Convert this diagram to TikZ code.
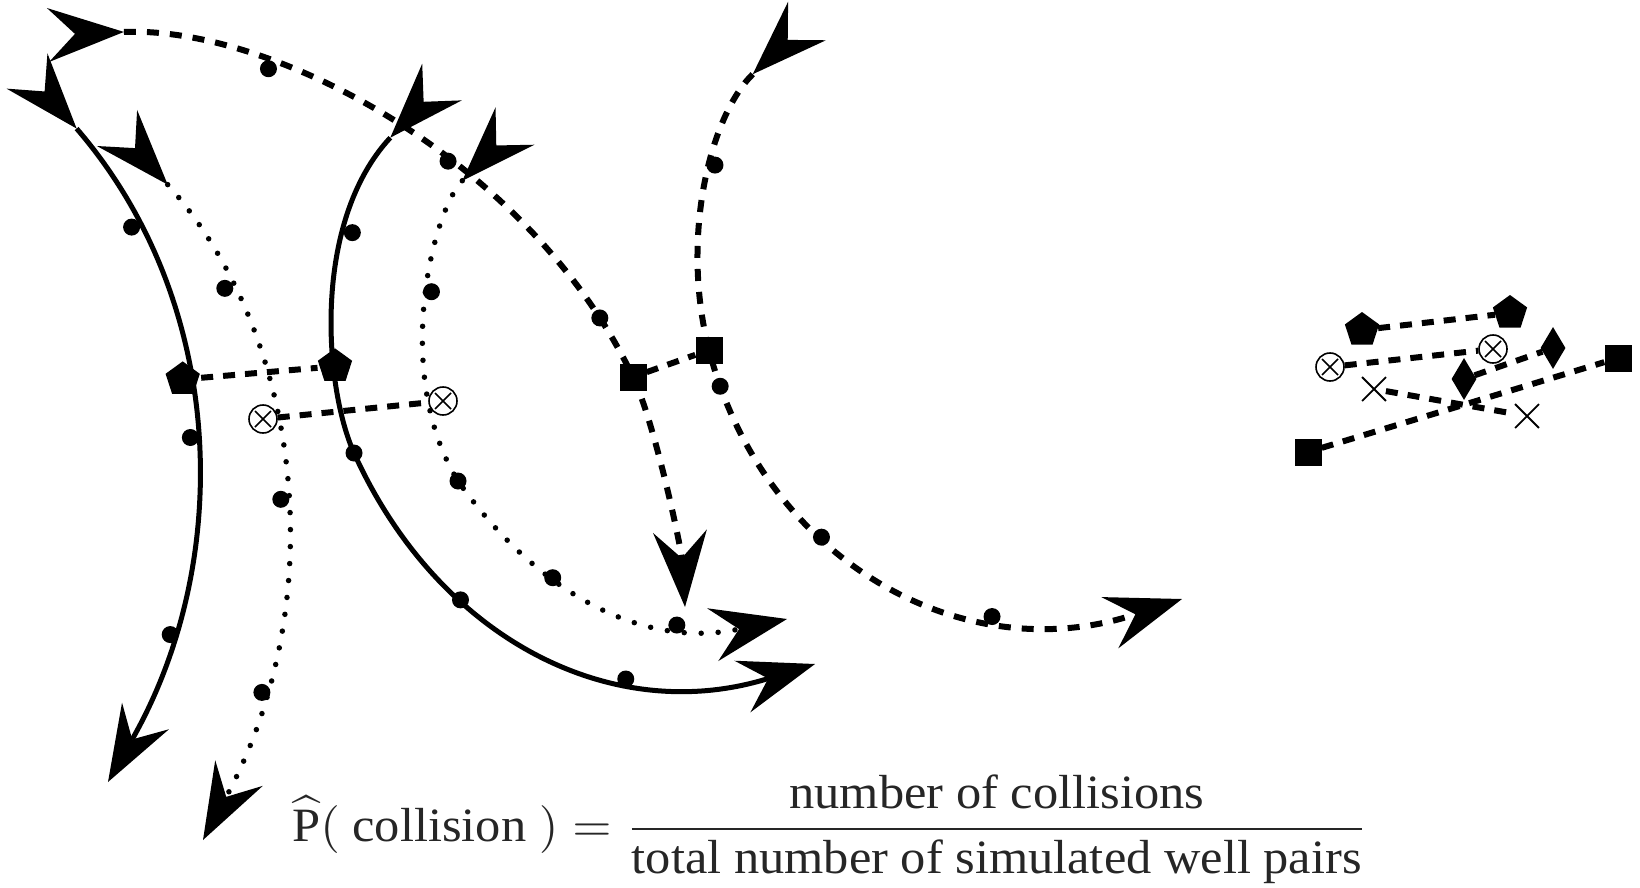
\documentclass[tikz,border=0pt]{standalone}
\usepackage{amsmath}
\usepackage{graphicx}
\usepackage{fontspec}
\setmainfont{Liberation Serif}
\usetikzlibrary{arrows.meta,shapes.geometric,shapes.misc}
\pgfdeclarelayer{bg}\pgfdeclarelayer{fg}\pgfsetlayers{bg,main,fg}
\tikzset{
  bothways/.style={{Stealth[reversed,length=76pt,width=54pt,inset=27pt,line width=0pt]}-{Stealth[length=76pt,width=54pt,inset=27pt,line width=0pt]}},
  solidpath/.style={line width=5pt},
  dashedpath/.style={line width=6pt,dash pattern=on 12pt off 11pt},
  dottedpath/.style={line width=5.5pt,line cap=round,dash pattern=on 0pt off 17pt},
  linkline/.style={line width=6pt,dash pattern=on 12pt off 10pt},
  bigdot/.style={circle,fill=black,inner sep=0pt,minimum size=17pt},
  penta/.style={regular polygon,regular polygon sides=5,fill=black,inner sep=0pt,minimum size=36pt},
  sqmark/.style={rectangle,fill=black,inner sep=0pt,minimum size=27pt},
  diam/.style={diamond,fill=black,inner sep=0pt,minimum width=25pt,minimum height=42pt},
  xmark/.style={cross out,draw=black,line width=1.8pt,inner sep=0pt,minimum size=22pt},
  otim/.style={circle,draw=black,line width=1.6pt,inner sep=0pt,minimum size=28pt,
    path picture={\draw[line width=1.6pt]
      ([xshift=-8pt,yshift=-8pt]path picture bounding box.center) -- ([xshift=8pt,yshift=8pt]path picture bounding box.center)
      ([xshift=-8pt,yshift=8pt]path picture bounding box.center) -- ([xshift=8pt,yshift=-8pt]path picture bounding box.center);}},
}
\begin{document}
\begin{tikzpicture}[x=1pt,y=-1pt]
\begin{pgfonlayer}{bg}
\fill[white] (0,0) rectangle (1640,888);
\end{pgfonlayer}
\useasboundingbox (0,0) rectangle (1640,888);

% trajectory start and end points
\coordinate (d1b) at (48,35);   \coordinate (d1e) at (685,607);
\coordinate (d2b) at (807,21);  \coordinate (d2e) at (1182,599);
\coordinate (s1b) at (27,71);   \coordinate (s1e) at (108,782);
\coordinate (t1b) at (117,128); \coordinate (t1e) at (203,840);
\coordinate (s2b) at (442,82);  \coordinate (s2e) at (815,664);
\coordinate (t2b) at (515,126); \coordinate (t2e) at (787,619);

\begin{pgfonlayer}{fg}
\node[sqmark] (sqA) at (633,377) {};
\node[sqmark] (sqB) at (709,350) {};
\node[otim] (oxA) at (263,419) {};
\node[otim] (oxB) at (443,401) {};
\node[bigdot] (s2c) at (354,453) {};
\node[bigdot] (t2c) at (458,481) {};
% right cluster
\node[penta] (rpA) at (1362,330) {};
\node[penta] (rpB) at (1510,313) {};
\node[otim] (roC) at (1330,367) {};
\node[otim] (roD) at (1493,349) {};
\node[xmark] (rxE) at (1374,389) {};
\node[xmark] (rxF) at (1527,416) {};
\node[diam] (rdG) at (1464,379) {};
\node[diam] (rdH) at (1553,348) {};
\node[sqmark] (rsI) at (1308,452) {};
\node[sqmark] (rsJ) at (1618,358) {};
\end{pgfonlayer}

% trajectories
\draw[dashedpath,bothways] (d1b) .. controls (274.3,25.9) and (530.7,162.1) ..
   node[bigdot,pos=0.32] (d1a) {} node[bigdot,pos=0.6] (d1c) {} node[bigdot,pos=0.905] (d1d) {}
   (sqA.center) .. controls (654.5,422) and (681,547) .. (d1e);
\draw[dashedpath,bothways] (d2b) .. controls (710.4,115.7) and (679.8,236.7) ..
   node[bigdot,pos=0.46] (d2a) {}
   (sqB.center) .. controls (762.5,557.1) and (960,672) ..
   node[bigdot,pos=0.06] (d2c) {} node[bigdot,pos=0.37] (d2d) {} node[bigdot,pos=0.7] (d2f) {} (d2e);
\draw[solidpath,bothways] (s1b) .. controls (227,303) and (234,560) ..
   node[bigdot,pos=0.22] (s1a) {} node[penta,pos=0.43] (pentA) {} node[bigdot,pos=0.51] (s1c) {} node[bigdot,pos=0.785] (s1d) {} (s1e);
\draw[dottedpath,bothways] (t1b) .. controls (301,333.5) and (333.7,597.1) ..
   node[bigdot,pos=0.245] (t1a) {} node[bigdot,pos=0.54] (t1c) {} node[bigdot,pos=0.8] (t1d) {} (t1e);
\draw[solidpath,bothways] (s2b) .. controls (312,222) and (324,386) ..
   node[bigdot,pos=0.35] (s2a) {} node[penta,pos=0.69] (pentB) {}
   (s2c.center) .. controls (438.5,639.3) and (611.9,727) ..
   node[bigdot,pos=0.32] (s2d) {} node[bigdot,pos=0.67] (s2f) {} (s2e);
\draw[dottedpath,bothways] (t2b) .. controls (432.3,211.9) and (392,374) ..
   node[bigdot,pos=0.49] (t2a) {}
   (t2c.center) .. controls (535,590) and (640,650) ..
   node[bigdot,pos=0.36] (t2d) {} node[bigdot,pos=0.73] (t2f) {} (t2e);

% collision links
\draw[linkline] (pentA) -- (pentB);
\draw[linkline] (oxA) -- (oxB);
\draw[linkline] (sqA) -- (sqB);
\draw[linkline] (rpA) -- (rpB);
\draw[linkline] (roC) -- (roD);
\draw[linkline] (rxE) -- (rxF);
\draw[linkline] (rdG) -- (rdH);
\draw[linkline] (rsI) -- (rsJ);

% formula
\node[inner sep=0pt,text=black!85] (formula) at (830,829.5)
  {\resizebox*{1075pt}{109pt}{$\displaystyle \widehat{\text{P}}(\text{ collision }) = \frac{\text{number of collisions}}{\text{total number of simulated well pairs}}$}};
\end{tikzpicture}
\end{document}
